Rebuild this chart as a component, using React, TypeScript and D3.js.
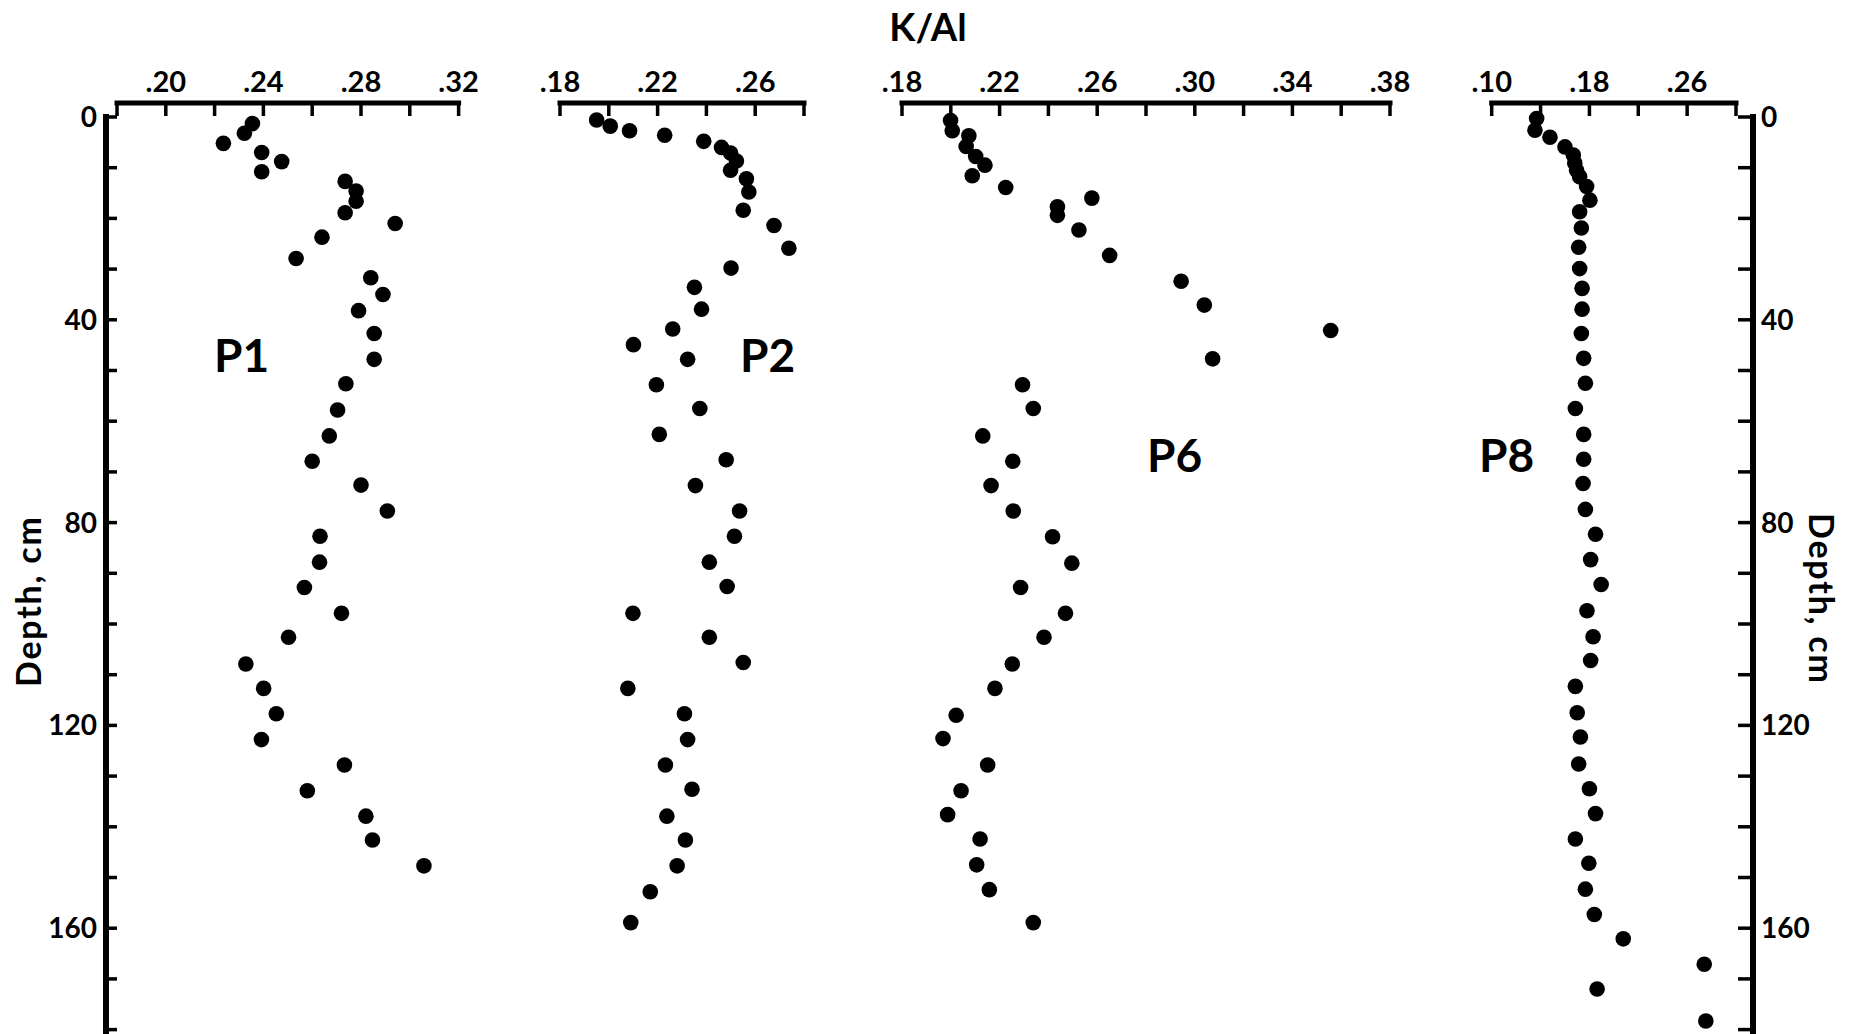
import React from "react";
import * as d3 from "d3";

// Depth axis: minor ticks every 10 cm, labels every 40 cm
const depthLabels = [0, 40, 80, 120, 160];
const depthTicks = [0, 10, 20, 30, 40, 50, 60, 70, 80, 90, 100, 110, 120, 130, 140, 150, 160, 170, 180];

// Profile P1
const p1Depth = [1.3, 3.2, 5.2, 7.0, 8.8, 10.8, 12.7, 14.6, 16.6, 18.9, 21.0, 23.7, 27.9, 31.7, 35.0, 38.2, 42.7, 47.8, 52.6, 57.8, 62.9, 67.9, 72.6, 77.7, 82.7, 87.8, 92.8, 97.9, 102.6, 107.9, 112.7, 117.7, 122.8, 127.8, 132.9, 137.9, 142.6, 147.7];
const p1Ratio = [0.2355, 0.2322, 0.2236, 0.2393, 0.2475, 0.2393, 0.2735, 0.278, 0.278, 0.2735, 0.294, 0.264, 0.2534, 0.284, 0.289, 0.279, 0.2854, 0.2854, 0.2738, 0.2704, 0.267, 0.26, 0.28, 0.2908, 0.2632, 0.263, 0.2568, 0.272, 0.2503, 0.2328, 0.2401, 0.2453, 0.2392, 0.2732, 0.258, 0.282, 0.2847, 0.3058];
const p1Ticks = [0.18, 0.2, 0.22, 0.24, 0.26, 0.28, 0.3, 0.32];
const p1Labels = [0.2, 0.24, 0.28, 0.32];

// Profile P2
const p2Depth = [0.6, 1.8, 2.7, 3.6, 4.8, 6.0, 7.1, 8.7, 10.5, 12.2, 14.8, 18.4, 21.4, 25.9, 29.8, 33.6, 37.9, 41.8, 44.9, 47.8, 52.8, 57.5, 62.6, 67.6, 72.7, 77.7, 82.7, 87.8, 92.6, 97.9, 102.6, 107.6, 112.7, 117.7, 122.8, 127.8, 132.6, 137.9, 142.6, 147.7, 152.8, 158.9];
const p2Ratio = [0.195, 0.2006, 0.2085, 0.2229, 0.2389, 0.2462, 0.2499, 0.2523, 0.2499, 0.2564, 0.2574, 0.2551, 0.2677, 0.2738, 0.2501, 0.2351, 0.238, 0.2262, 0.2101, 0.2323, 0.2195, 0.2373, 0.2207, 0.2481, 0.2355, 0.2536, 0.2515, 0.2412, 0.2485, 0.2099, 0.2412, 0.2551, 0.2078, 0.231, 0.2323, 0.2232, 0.2341, 0.2238, 0.2314, 0.228, 0.217, 0.209];
const p2Ticks = [0.18, 0.2, 0.22, 0.24, 0.26, 0.28];
const p2Labels = [0.18, 0.22, 0.26];

// Profile P6
const p6Depth = [0.7, 2.7, 3.7, 5.8, 7.8, 9.5, 11.6, 13.9, 16.0, 17.7, 19.4, 22.3, 27.3, 32.4, 37.1, 42.1, 47.7, 52.8, 57.5, 62.9, 67.9, 72.7, 77.7, 82.8, 88.0, 92.8, 97.9, 102.6, 107.9, 112.7, 118.0, 122.6, 127.8, 132.9, 137.6, 142.4, 147.5, 152.4, 158.9];
const p6Ratio = [0.1999, 0.2006, 0.2074, 0.2063, 0.2102, 0.214, 0.2088, 0.2225, 0.2578, 0.2437, 0.2437, 0.2525, 0.2651, 0.2944, 0.3039, 0.3557, 0.3073, 0.2294, 0.2338, 0.2131, 0.2254, 0.2165, 0.2256, 0.2417, 0.2496, 0.2286, 0.247, 0.2382, 0.2252, 0.2181, 0.2022, 0.1968, 0.2151, 0.2042, 0.1987, 0.212, 0.2106, 0.2158, 0.2338];
const p6Ticks = [0.18, 0.2, 0.22, 0.24, 0.26, 0.28, 0.3, 0.32, 0.34, 0.36, 0.38];
const p6Labels = [0.18, 0.22, 0.26, 0.3, 0.34, 0.38];

// Profile P8
const p8Depth = [0.3, 2.6, 4.0, 5.9, 7.5, 9.1, 10.5, 11.8, 13.7, 16.4, 18.7, 21.9, 25.7, 29.9, 33.8, 37.9, 42.7, 47.6, 52.5, 57.5, 62.6, 67.5, 72.3, 77.4, 82.3, 87.3, 92.2, 97.4, 102.5, 107.2, 112.3, 117.5, 122.3, 127.6, 132.5, 137.4, 142.4, 147.2, 152.3, 157.3, 162.1, 167.1, 172.0, 178.3];
const p8Ratio = [0.1368, 0.1354, 0.1477, 0.16, 0.1668, 0.168, 0.1695, 0.172, 0.1777, 0.1804, 0.172, 0.1734, 0.1712, 0.172, 0.174, 0.174, 0.1734, 0.1753, 0.1767, 0.1685, 0.1753, 0.1753, 0.1748, 0.1767, 0.185, 0.181, 0.1896, 0.178, 0.183, 0.181, 0.1685, 0.17, 0.1726, 0.1712, 0.18, 0.185, 0.1685, 0.1795, 0.1767, 0.184, 0.2077, 0.274, 0.1863, 0.2753];
const p8Ticks = [0.1, 0.14, 0.18, 0.22, 0.26, 0.3];
const p8Labels = [0.1, 0.18, 0.26];

const W = 1863;
const H = 1034;
const FONT = "Lato, 'Open Sans', 'DejaVu Sans', sans-serif";
const INK = "#000";

const AXIS_Y = 103;
const DEPTH_TOP = 117;
const LEFT_AXIS_X = 106;
const RIGHT_AXIS_X = 1753;

const yDepth = d3.scaleLinear().domain([0, 180]).range([DEPTH_TOP, 1029.6]);

const fmt = (v: number) => d3.format(".2f")(v).replace(/^0/, "");

type Panel = {
  name: string;
  depth: number[];
  ratio: number[];
  domain: [number, number];
  range: [number, number];
  ticks: number[];
  labels: number[];
  namePos: [number, number];
};

const panels: Panel[] = [
  { name: "P1", depth: p1Depth, ratio: p1Ratio, domain: [0.18, 0.32], range: [117, 458.6], ticks: p1Ticks, labels: p1Labels, namePos: [214, 372] },
  { name: "P2", depth: p2Depth, ratio: p2Ratio, domain: [0.18, 0.28], range: [560, 804], ticks: p2Ticks, labels: p2Labels, namePos: [740, 372] },
  { name: "P6", depth: p6Depth, ratio: p6Ratio, domain: [0.18, 0.38], range: [902, 1390], ticks: p6Ticks, labels: p6Labels, namePos: [1147, 472] },
  { name: "P8", depth: p8Depth, ratio: p8Ratio, domain: [0.1, 0.3], range: [1491.7, 1736], ticks: p8Ticks, labels: p8Labels, namePos: [1479, 472] },
];

function ProfilePanel({ p }: { p: Panel }) {
  const x = d3.scaleLinear().domain(p.domain).range(p.range);
  const pts = d3.zip(p.depth, p.ratio) as [number, number][];
  return (
    <g>
      <line x1={x(p.domain[0])} x2={x(p.domain[1])} y1={AXIS_Y} y2={AXIS_Y} stroke={INK} strokeWidth={5} strokeLinecap="square" />
      {p.ticks.map((t) => (
        <line key={t} x1={x(t)} x2={x(t)} y1={AXIS_Y} y2={DEPTH_TOP - 1} stroke={INK} strokeWidth={3.5} />
      ))}
      {p.labels.map((t) => (
        <text key={t} x={x(t)} y={AXIS_Y - 11} textAnchor="middle" fontSize={29} fontWeight={700} fontFamily={FONT} fill={INK}>
          {fmt(t)}
        </text>
      ))}
      {pts.map(([d, v], i) => (
        <circle key={i} cx={x(v)} cy={yDepth(d)} r={7.8} fill={INK} />
      ))}
      <text x={p.namePos[0]} y={p.namePos[1]} fontSize={46} fontWeight={700} fontFamily={FONT} fill={INK}>
        {p.name}
      </text>
    </g>
  );
}

function DepthAxis({ side }: { side: "left" | "right" }) {
  const ax = side === "left" ? LEFT_AXIS_X : RIGHT_AXIS_X;
  const dir = side === "left" ? 1 : -1;
  const len = side === "left" ? 11 : 15;
  return (
    <g>
      <line x1={ax} x2={ax} y1={DEPTH_TOP - 3} y2={H} stroke={INK} strokeWidth={6} />
      {depthTicks.map((t) => (
        <line key={t} x1={ax} x2={ax + dir * len} y1={yDepth(t)} y2={yDepth(t)} stroke={INK} strokeWidth={3.5} />
      ))}
      {depthLabels.map((t) => (
        <text
          key={t}
          x={side === "left" ? ax - 9 : ax + 8}
          y={yDepth(t)}
          dy="0.36em"
          textAnchor={side === "left" ? "end" : "start"}
          fontSize={28}
          fontWeight={700}
          fontFamily={FONT}
          fill={INK}
        >
          {t}
        </text>
      ))}
    </g>
  );
}

export default function App() {
  return (
    <svg
      width={W}
      height={H}
      viewBox={`0 0 ${W} ${H}`}
      style={{ position: "absolute", left: 0, top: 0, background: "#fff" }}
    >
      <rect width={W} height={H} fill="#fff" />
      <text x={928} y={41} textAnchor="middle" fontSize={38} fontWeight={700} fontFamily={FONT} fill={INK}>
        K/Al
      </text>
      <DepthAxis side="left" />
      <DepthAxis side="right" />
      {panels.map((p) => (
        <ProfilePanel key={p.name} p={p} />
      ))}
      <text transform="translate(41,602) rotate(-90)" textAnchor="middle" fontSize={34} fontWeight={700} fontFamily={FONT} fill={INK} textLength={170} lengthAdjust="spacing">
        Depth, cm
      </text>
      <text transform="translate(1809,598) rotate(90)" textAnchor="middle" fontSize={34} fontWeight={700} fontFamily={FONT} fill={INK} textLength={170} lengthAdjust="spacing">
        Depth, cm
      </text>
    </svg>
  );
}
